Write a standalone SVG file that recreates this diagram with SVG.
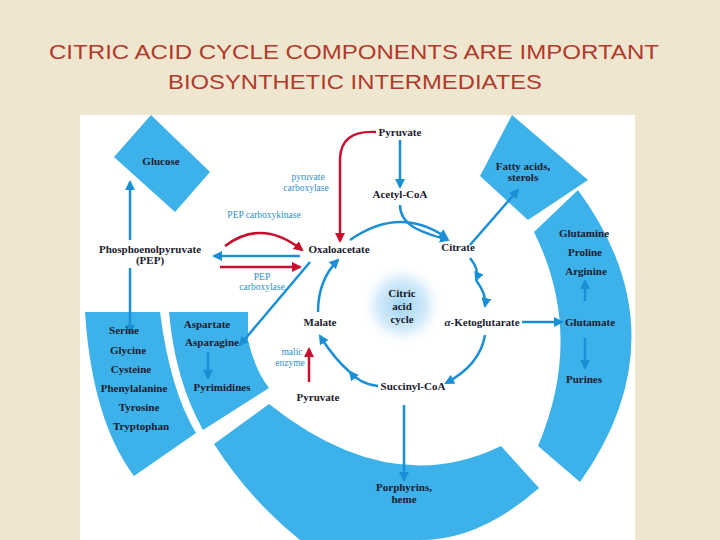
<svg xmlns="http://www.w3.org/2000/svg" width="720" height="540" viewBox="0 0 720 540">
<defs>
<marker id="ab" viewBox="0 0 10 10" refX="8" refY="5" markerWidth="4" markerHeight="4" orient="auto"><path d="M0,0L10,5L0,10z" fill="#1b8fd6"/></marker>
<marker id="ar" viewBox="0 0 10 10" refX="8" refY="5" markerWidth="4" markerHeight="4" orient="auto"><path d="M0,0L10,5L0,10z" fill="#c8102e"/></marker>
<radialGradient id="glow"><stop offset="0" stop-color="#9fd3f2"/><stop offset="0.6" stop-color="#d6ecfa"/><stop offset="1" stop-color="#fff" stop-opacity="0"/></radialGradient>
<style>
.p{fill:#3db2ea}
.t{font-family:"Liberation Serif",serif;font-weight:bold;font-size:11px;fill:#1a1a2e;text-anchor:middle}
.e{font-family:"Liberation Serif",serif;font-size:9.5px;fill:#2a8fcf;text-anchor:middle}
.b{fill:none;stroke:#1b8fd6;stroke-width:2.5;marker-end:url(#ab)}
.r{fill:none;stroke:#c8102e;stroke-width:2.5;marker-end:url(#ar)}
.ti{font-family:"Liberation Sans",sans-serif;font-size:21px;fill:#b23a2c;text-anchor:middle}
</style>
</defs>
<rect width="720" height="540" fill="#efe6cf"/>
<text class="ti" x="354" y="59" textLength="610" lengthAdjust="spacingAndGlyphs">CITRIC ACID CYCLE COMPONENTS ARE IMPORTANT</text>
<text class="ti" x="355" y="89" textLength="374" lengthAdjust="spacingAndGlyphs">BIOSYNTHETIC INTERMEDIATES</text>
<rect x="80" y="115" width="555" height="425" fill="#fff"/>
<g id="panels">
<path id="glucose-panel" class="p" d="M151,115L210,172L175,212L114,157Z"/>
<path id="fatty-panel" class="p" d="M512,115L588,180L528,220L480,176Z"/>
<path id="right-panel" class="p" d="M578,190Q684,335 580,482L538,446Q585,335 534,232Z"/>
<path id="bottom-panel" class="p" d="M214,444L269,404Q390,500 501,446L539,488Q480,540 420,540L300,540Q250,500 214,444Z"/>
<path id="left-panel" class="p" d="M85,312L160,312Q170,390 196,433L134,476Q92,420 85,312Z"/>
<path id="asp-panel" class="p" d="M169,312L248,312L248,340Q255,370 269,388L203,430Q175,380 169,312Z"/>
<circle cx="402" cy="305" r="42" fill="url(#glow)"/>
</g>
<g id="connectors">
<path class="b" d="M400,140V187"/>
<path class="b" d="M400,205C400,225 420,232 448,240"/>
<path class="b" d="M350,240Q400,205 447,238"/>
<path class="b" d="M470,258Q480,270 476,280"/>
<path class="b" d="M476,280Q487,295 485,306"/>
<path class="b" d="M485,335Q480,365 446,383"/>
<path class="b" d="M378,386Q360,384 350,372"/>
<path class="b" d="M352,374Q335,360 320,336"/>
<path class="b" d="M318,312Q318,280 338,260"/>
<path class="b" d="M310,262L240,345"/>
<path class="b" d="M130,240V182"/>
<path class="b" d="M130,268V333"/>
<path class="b" d="M300,256H214" stroke-width="4"/>
<path class="r" d="M220,267H300"/>
<path class="r" d="M225,246Q262,218 302,250"/>
<path class="r" d="M376,132Q340,130 340,160V241"/>
<path class="r" d="M309,382V349"/>
<path class="b" d="M470,245L518,190"/>
<path class="b" d="M522,322H562"/>
<path class="b" d="M585,301V281"/>
<path class="b" d="M585,338V368"/>
<path class="b" d="M208,352V378"/>
<path class="b" d="M404,405V480"/>
</g>
<g id="nodes">
<text class="t" x="400" y="136">Pyruvate</text>
<text class="t" x="400" y="198">Acetyl-CoA</text>
<text class="t" x="161" y="165">Glucose</text>
<text class="t" x="523" y="170">Fatty acids,</text><text class="t" x="523" y="181">sterols</text>
<text class="t" x="150" y="253">Phosphoenolpyruvate</text><text class="t" x="150" y="264">(PEP)</text>
<text class="t" x="339" y="253">Oxaloacetate</text>
<text class="t" x="458" y="251">Citrate</text>
<text class="t" x="584" y="237">Glutamine</text>
<text class="t" x="585" y="256">Proline</text>
<text class="t" x="586" y="275">Arginine</text>
<text class="t" x="590" y="326">Glutamate</text>
<text class="t" x="584" y="383">Purines</text>
<text class="t" x="482" y="326"><tspan font-style="italic">α</tspan>-Ketoglutarate</text>
<text class="t" x="402" y="297">Citric</text><text class="t" x="402" y="310">acid</text><text class="t" x="402" y="323">cycle</text>
<text class="t" x="320" y="326">Malate</text>
<text class="t" x="207" y="328">Aspartate</text>
<text class="t" x="212" y="346">Asparagine</text>
<text class="t" x="222" y="391">Pyrimidines</text>
<text class="t" x="124" y="334">Serine</text>
<text class="t" x="128" y="354">Glycine</text>
<text class="t" x="131" y="373">Cysteine</text>
<text class="t" x="134" y="392">Phenylalanine</text>
<text class="t" x="139" y="411">Tyrosine</text>
<text class="t" x="141" y="430">Tryptophan</text>
<text class="t" x="318" y="401">Pyruvate</text>
<text class="t" x="413" y="390">Succinyl-CoA</text>
<text class="t" x="404" y="491">Porphyrins,</text><text class="t" x="404" y="503">heme</text>
<text class="e" x="292" y="355">malic</text><text class="e" x="290" y="366">enzyme</text>
<text class="e" x="308" y="180">pyruvate</text><text class="e" x="306" y="191">carboxylase</text>
<text class="e" x="264" y="218">PEP carboxykinase</text>
<text class="e" x="262" y="280">PEP</text><text class="e" x="262" y="290">carboxylase</text>
</g>
</svg>
